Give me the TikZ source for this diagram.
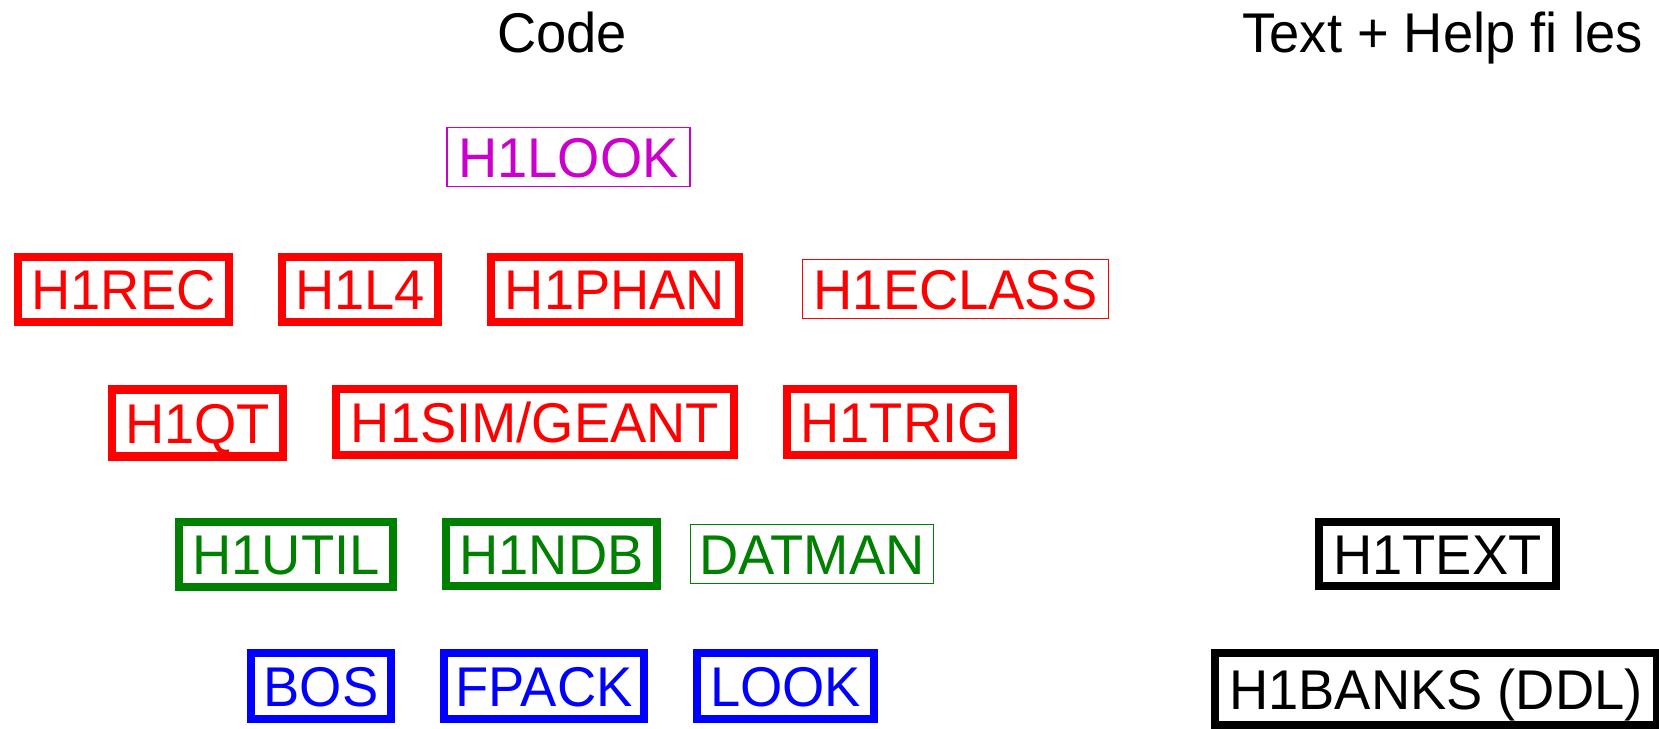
\documentclass[tikz,border=0pt]{standalone}
\usepackage{fontspec}
\setmainfont{Liberation Sans}[FakeStretch=0.97]
\usetikzlibrary{positioning}
\definecolor{lookmag}{HTML}{CC00CC}
\definecolor{recred}{HTML}{FF0000}
\definecolor{utilgreen}{HTML}{008000}
\definecolor{bosblue}{HTML}{0000FF}

\begin{document}
\begin{tikzpicture}[x=0.5pt, y=-0.5pt,
  pkg/.style={draw, rectangle, inner sep=0pt, font=\fontsize{28}{34}\selectfont,
              text height=20pt, text depth=0pt},
  thickpkg/.style={pkg, line width=4.25pt, minimum height=32.5pt},
  thinpkg/.style={pkg, line width=0.65pt, minimum height=29.5pt},
  heading/.style={anchor=base, font=\fontsize{28}{34}\selectfont}]
  \useasboundingbox (0,0) rectangle (1659,728);

  % --- Column headings ---
  \node[heading] (code) at (562,52) {Code};
  \node[heading] (texthelp) at (1442.5,52) {Text + Help fi les};

  % --- Top level ---
  \node[thinpkg, lookmag, minimum width=121.5pt] (h1look) at (568.5,157) {H1LOOK};

  % --- Reconstruction / analysis ---
  \node[thickpkg, recred, minimum width=105.5pt] (h1rec) at (123.5,289.5) {H1REC};
  \node[thickpkg, recred, minimum width=78pt] (h1l4) at (360,289.5) {H1L4};
  \node[thickpkg, recred, minimum width=124pt] (h1phan) at (615,289.5) {H1PHAN};
  \node[thinpkg, recred, minimum width=153pt] (h1eclass) at (955.5,289) {H1ECLASS};

  \node[thickpkg, recred, minimum width=85.5pt, minimum height=33.5pt] (h1qt) at (197.5,423) {H1QT};
  \node[thickpkg, recred, minimum width=199pt, minimum height=33pt] (h1sim) at (535,422) {H1SIM/GEANT};
  \node[thickpkg, recred, minimum width=113pt, minimum height=33pt] (h1trig) at (900,422) {H1TRIG};

  % --- Utilities ---
  \node[thickpkg, utilgreen, minimum width=107pt] (h1util) at (286,554.5) {H1UTIL};
  \node[thickpkg, utilgreen, minimum width=105.5pt, minimum height=32pt] (h1ndb) at (551.5,554) {H1NDB};
  \node[thinpkg, utilgreen, minimum width=121.5pt] (datman) at (812,554) {DATMAN};

  % --- Base packages ---
  \node[thickpkg, bosblue, minimum width=70pt, minimum height=33pt] (bos) at (321,686) {BOS};
  \node[thickpkg, bosblue, minimum width=100pt, minimum height=33pt] (fpack) at (544,686) {FPACK};
  \node[thickpkg, bosblue, minimum width=88.5pt, minimum height=33pt] (look) at (785.5,686) {LOOK};

  % --- Text + help ---
  \node[thickpkg, black, minimum width=118.5pt, minimum height=32pt] (h1text) at (1437.5,554) {H1TEXT};
  \node[thickpkg, black, minimum width=221pt, minimum height=36pt] (h1banks) at (1436,689) {H1BANKS (DDL)};
\end{tikzpicture}
\end{document}
